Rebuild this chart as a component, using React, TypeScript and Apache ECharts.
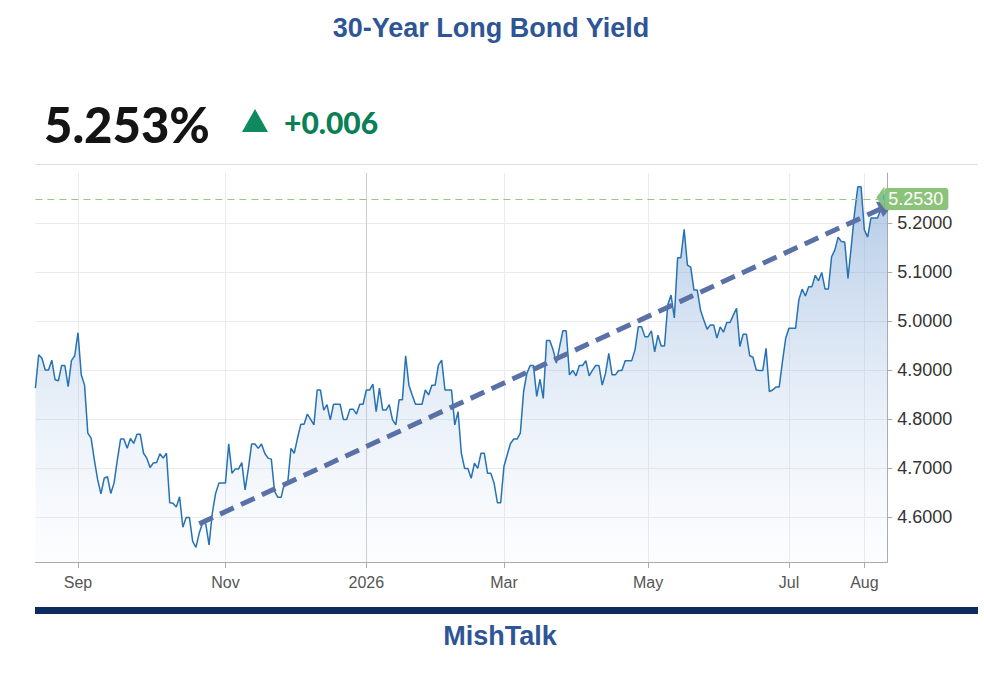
import React, { useEffect, useRef } from "react";
import * as echarts from "echarts";

// ---- data ----
const START_DATE = "2025-08-13"; // first trading day shown (weekdays, evenly spaced)

const yields: number[] = [
  4.864, 4.932, 4.925, 4.901, 4.901, 4.921, 4.881, 4.879, 4.910, 4.910,
  4.867, 4.920, 4.930, 4.977, 4.891, 4.870, 4.772, 4.762, 4.717, 4.677,
  4.648, 4.680, 4.683, 4.649, 4.670, 4.717, 4.760, 4.760, 4.741, 4.761,
  4.751, 4.770, 4.770, 4.731, 4.721, 4.702, 4.711, 4.712, 4.730, 4.721,
  4.731, 4.630, 4.629, 4.621, 4.642, 4.580, 4.600, 4.600, 4.551, 4.539,
  4.568, 4.588, 4.587, 4.544, 4.609, 4.649, 4.670, 4.670, 4.670, 4.750,
  4.690, 4.699, 4.699, 4.712, 4.656, 4.700, 4.750, 4.750, 4.741, 4.750,
  4.731, 4.721, 4.719, 4.653, 4.641, 4.641, 4.670, 4.670, 4.741, 4.731,
  4.762, 4.790, 4.790, 4.811, 4.800, 4.789, 4.860, 4.860, 4.819, 4.830,
  4.799, 4.831, 4.831, 4.831, 4.800, 4.800, 4.821, 4.821, 4.811, 4.831,
  4.831, 4.860, 4.860, 4.872, 4.816, 4.864, 4.819, 4.819, 4.830, 4.799,
  4.789, 4.840, 4.840, 4.930, 4.870, 4.850, 4.831, 4.831, 4.831, 4.860,
  4.850, 4.870, 4.870, 4.911, 4.921, 4.860, 4.860, 4.860, 4.789, 4.816,
  4.731, 4.700, 4.700, 4.680, 4.711, 4.700, 4.731, 4.731, 4.690, 4.690,
  4.670, 4.630, 4.630, 4.704, 4.728, 4.751, 4.760, 4.760, 4.772, 4.857,
  4.894, 4.910, 4.910, 4.847, 4.882, 4.843, 4.961, 4.961, 4.942, 4.915,
  4.949, 4.981, 4.981, 4.891, 4.900, 4.889, 4.910, 4.910, 4.920, 4.889,
  4.900, 4.910, 4.910, 4.870, 4.894, 4.935, 4.891, 4.891, 4.900, 4.900,
  4.920, 4.920, 4.920, 4.942, 4.989, 4.989, 4.969, 4.969, 4.981, 4.938,
  4.972, 4.950, 4.950, 5.034, 5.054, 5.007, 5.130, 5.130, 5.188, 5.115,
  5.111, 5.064, 5.064, 5.023, 5.003, 4.984, 4.993, 4.993, 4.966, 4.989,
  4.978, 4.998, 4.998, 5.013, 5.027, 4.949, 4.974, 4.974, 4.930, 4.927,
  4.901, 4.900, 4.900, 4.945, 4.857, 4.860, 4.866, 4.866, 4.918, 4.966,
  4.986, 4.986, 4.986, 5.044, 5.066, 5.052, 5.071, 5.071, 5.094, 5.083,
  5.100, 5.066, 5.066, 5.132, 5.146, 5.172, 5.163, 5.162, 5.088, 5.153,
  5.221, 5.275, 5.275, 5.187, 5.172, 5.211, 5.211, 5.211, 5.228, 5.241,
  5.253,
];

const tickMonths = ["2025-09", "2025-11", "2026-01", "2026-03", "2026-05", "2026-07", "2026-08"];
const tickLabels = ["Sep", "Nov", "2026", "Mar", "May", "Jul", "Aug"];
const yTicks = [4.6, 4.7, 4.8, 4.9, 5.0, 5.1, 5.2];
const Y_MIN = 4.509;
const Y_MAX = 5.303;

const lastValue = 5.253;
const lastLabel = "5.2530";
const headlineValue = "5.253%";
const headlineChange = "+0.006";

const trendStart = { index: 50, value: 4.587 };
const trendEnd = { index: 260, value: 5.236 };

// ---- helpers ----
function tradingDays(start: string, count: number): string[] {
  const out: string[] = [];
  const [y, m, d] = start.split("-").map(Number);
  const t = new Date(Date.UTC(y, m - 1, d));
  while (out.length < count) {
    const wd = t.getUTCDay();
    if (wd !== 0 && wd !== 6) out.push(t.toISOString().slice(0, 10));
    t.setUTCDate(t.getUTCDate() + 1);
  }
  return out;
}

const dates = tradingDays(START_DATE, yields.length);
const isTick = (i: number) => {
  if (i <= 0 || i >= dates.length) return false;
  const m = dates[i].slice(0, 7);
  return m !== dates[i - 1].slice(0, 7) && tickMonths.includes(m);
};
const labelFor = (v: string) => {
  const k = tickMonths.indexOf(String(v).slice(0, 7));
  return k >= 0 ? tickLabels[k] : "";
};

const SANS = '"Liberation Sans", Arial, sans-serif';
const NAVY_TEXT = "#2e5596";
const TAG_GREEN = "#8cc37a";
const REF_LINE_GREEN = "#94c97e";

export default function App() {
  const ref = useRef<HTMLDivElement>(null);

  useEffect(() => {
    if (!ref.current) return;
    const chart = echarts.init(ref.current, null, { renderer: "svg" });
    const vGridColors = tickMonths.map((m) => (m === "2026-01" ? "#cdcdcd" : "#ebebeb"));

    chart.setOption({
      animation: false,
      grid: { left: 35.4, right: 96.7, top: 173, bottom: 112, containLabel: false },
      xAxis: {
        type: "category",
        data: dates,
        boundaryGap: false,
        axisLine: { show: true, lineStyle: { color: "#aaaaaa", width: 1 } },
        axisTick: {
          show: true,
          interval: (i: number) => isTick(i),
          length: 6,
          lineStyle: { color: "#aaaaaa" },
        },
        axisLabel: {
          interval: (i: number) => isTick(i),
          formatter: (v: string) => labelFor(v),
          color: "#555555",
          fontSize: 16,
          fontFamily: SANS,
          margin: 12,
        },
        splitLine: {
          show: true,
          interval: (i: number) => isTick(i),
          lineStyle: { color: vGridColors, width: 1 },
        },
      },
      yAxis: {
        type: "value",
        position: "right",
        min: Y_MIN,
        max: Y_MAX,
        scale: true,
        axisLine: { show: true, lineStyle: { color: "#aaaaaa" } },
        axisTick: { show: true, length: 5, customValues: yTicks, lineStyle: { color: "#aaaaaa" } },
        axisLabel: {
          customValues: yTicks,
          formatter: (v: number) => (v < 4.55 || v > 5.25 ? "" : v.toFixed(4)),
          color: "#333333",
          fontSize: 18,
          fontFamily: SANS,
          margin: 10,
        },
        splitLine: { show: true, lineStyle: { color: "#ebebeb", width: 1 } },
      },
      series: [
        {
          type: "line",
          data: yields,
          symbol: "none",
          showSymbol: false,
          z: 3,
          lineStyle: { color: "#2672b2", width: 1.5 },
          areaStyle: {
            color: new echarts.graphic.LinearGradient(0, 0, 0, 1, [
              { offset: 0, color: "rgba(108,152,208,0.75)" },
              { offset: 1, color: "rgba(215,228,245,0.12)" },
            ]),
          },
          markLine: {
            silent: true,
            animation: false,
            symbol: "none",
            label: { show: false },
            lineStyle: { color: REF_LINE_GREEN, type: [7, 5], width: 1 },
            data: [
              {
                yAxis: lastValue,
                lineStyle: { color: REF_LINE_GREEN, type: [7, 5], width: 1, opacity: 1 },
                label: {
                  show: true,
                  position: "end",
                  distance: -3,
                  formatter: lastLabel,
                  color: "#ffffff",
                  backgroundColor: TAG_GREEN,
                  padding: [2, 5, 2, 4],
                  borderRadius: 3,
                  fontSize: 18,
                  fontFamily: SANS,
                },
              },
              [
                {
                  coord: [dates[trendStart.index], trendStart.value],
                  symbol: "none",
                  lineStyle: { color: "#5a71a8", type: [15, 8], width: 5, cap: "butt", opacity: 1 },
                  label: { show: false },
                },
                {
                  coord: [dates[trendEnd.index], trendEnd.value],
                  symbol: "triangle",
                  symbolSize: 17,
                },
              ],
            ],
          },
          markPoint: {
            silent: true,
            animation: false,
            label: { show: false },
            data: [
              {
                coord: [dates[dates.length - 1], lastValue],
                symbol: "triangle",
                symbolSize: [22, 8],
                symbolRotate: 90,
                symbolOffset: [-7, 0],
                itemStyle: { color: TAG_GREEN },
              },
              {
                coord: [dates[dates.length - 1], lastValue],
                symbol: "circle",
                symbolSize: 9,
                itemStyle: { color: "#2bb5ef" },
              },
            ],
          },
        },
      ],
      graphic: [
        {
          type: "text",
          x: 491,
          y: 28,
          style: {
            text: "30-Year Long Bond Yield",
            font: `bold 27px ${SANS}`,
            fill: NAVY_TEXT,
            align: "center",
            verticalAlign: "middle",
          },
        },
        {
          type: "text",
          x: 44,
          y: 124,
          style: {
            text: headlineValue,
            font: '900 49px Lato, "Noto Sans", sans-serif',
            fill: "#141414",
            align: "left",
            verticalAlign: "middle",
          },
        },
        {
          type: "polygon",
          shape: { points: [[242, 132], [268, 132], [255, 109]] },
          style: { fill: "#0e8a5e" },
        },
        {
          type: "text",
          x: 284,
          y: 122,
          style: {
            text: headlineChange,
            font: '900 30px Lato, "Noto Sans", sans-serif',
            fill: "#0b7f56",
            align: "left",
            verticalAlign: "middle",
          },
        },
        {
          type: "line",
          shape: { x1: 35, y1: 164.5, x2: 978, y2: 164.5 },
          style: { stroke: "#dddddd", lineWidth: 1 },
        },
        {
          type: "rect",
          shape: { x: 35, y: 607, width: 943, height: 7 },
          style: { fill: "#0c2c60" },
        },
        {
          type: "text",
          x: 500,
          y: 636,
          style: {
            text: "MishTalk",
            font: `bold 27px ${SANS}`,
            fill: NAVY_TEXT,
            align: "center",
            verticalAlign: "middle",
          },
        },
      ],
    });

    return () => chart.dispose();
  }, []);

  return (
    <div
      ref={ref}
      style={{ position: "fixed", left: 0, top: 0, width: 984, height: 674, background: "#ffffff" }}
    />
  );
}
